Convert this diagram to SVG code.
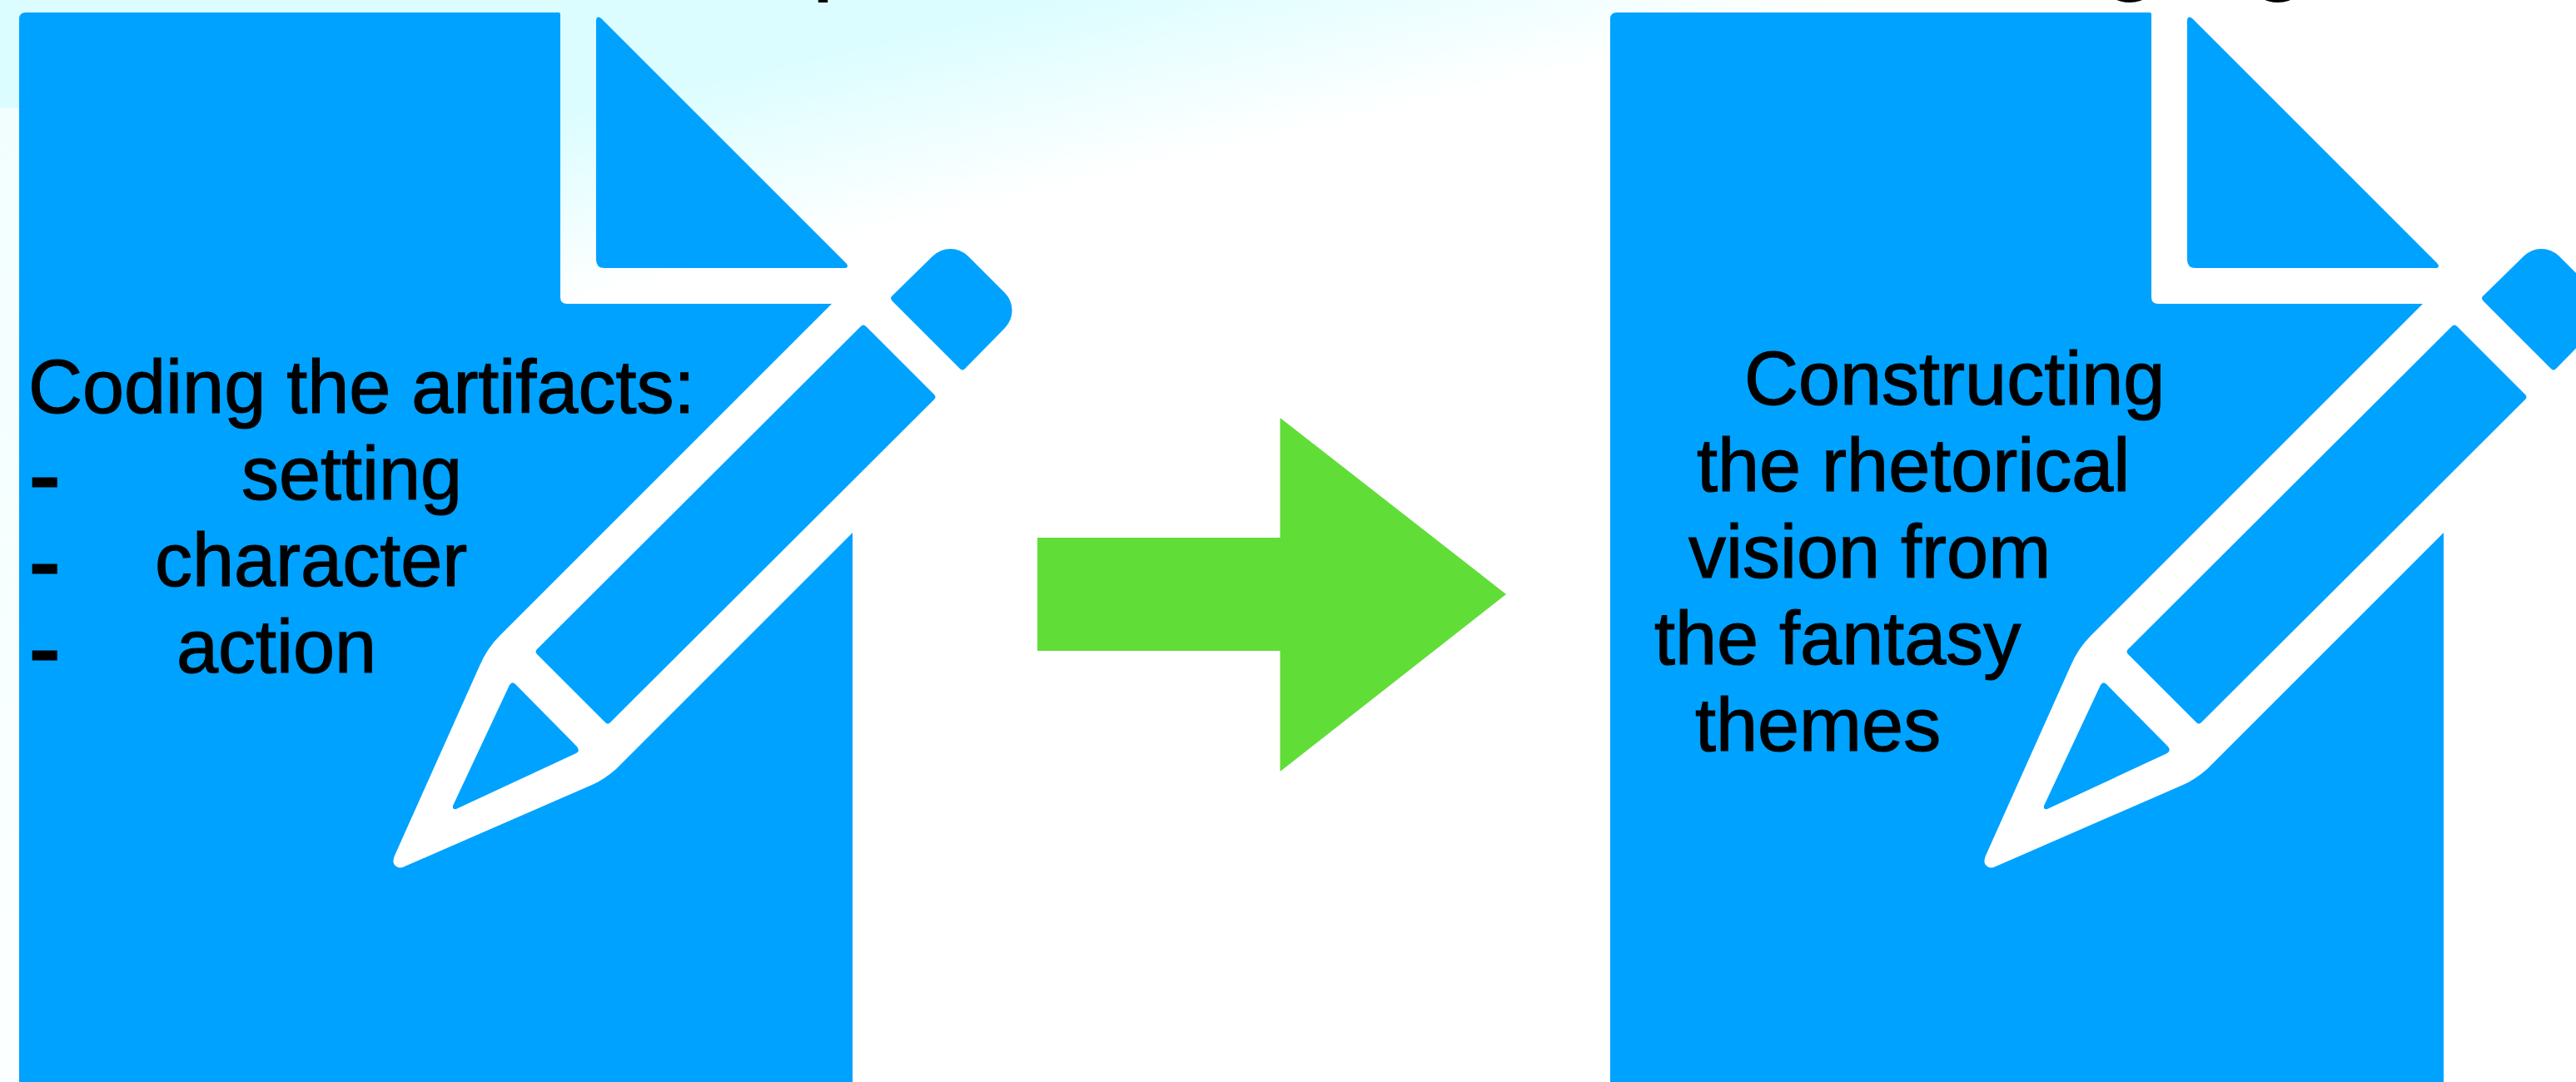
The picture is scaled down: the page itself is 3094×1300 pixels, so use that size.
<svg xmlns="http://www.w3.org/2000/svg" xmlns:xlink="http://www.w3.org/1999/xlink" width="3094" height="1300" viewBox="0 0 3094 1300">
<style>
.blue{fill:#00a2ff}
.t{font-family:"Liberation Sans",Arial,sans-serif;font-size:90px;fill:#000;stroke:#000;stroke-width:1.2px}
.b{font-weight:700}
.clip{font-family:"Liberation Sans",Arial,sans-serif;font-size:130px;fill:#000}
</style>
<defs>
<linearGradient id="sky" gradientUnits="userSpaceOnUse" x1="955" y1="75" x2="1005" y2="290">
<stop offset="0" stop-color="#dcfdff"/><stop offset="1" stop-color="#ffffff"/>
</linearGradient>
<linearGradient id="strip" x1="0" y1="0" x2="0" y2="1">
<stop offset="0" stop-color="#f2fefe"/><stop offset="1" stop-color="#fcffff"/>
</linearGradient>
<g id="doc">
<path class="blue" d="M31 15H671Q673 15 673 17V357Q673 365 681 365H999L600 764Q585 779 576 800L474 1028Q470 1037 476 1041Q480 1044 486 1041L711 943Q725 937 740 924L1024 640V1300H23V23Q23 15 31 15Z"/>
<path class="blue" d="M716 24Q717 18 722 22L1016 316Q1020 320 1016 322H726Q716 322 716 312Z"/>
<path class="blue" d="M1034 392Q1037 389 1040 392L1122 474Q1125 477 1122 480L733 868Q730 871 727 868L645 786Q642 783 645 780Z"/>
<path class="blue" d="M1072 355L1120.500 307.500A30 30 0 0 1 1162.500 307.500L1207 352A30 30 0 0 1 1207 394L1159 443Q1156 446 1153 443L1072 362Q1068 358 1072 355Z"/>
<path class="blue" d="M612 823Q615 818 619 822L693 897Q697 902 692 905L548 972Q543 973 544 968Z"/>
</g>
</defs>
<g id="background">
<rect width="3094" height="1300" fill="url(#sky)"/>
<rect x="0" y="130" width="24" height="1170" fill="url(#strip)"/>
</g>
<g id="title-fragment">
<text class="clip" x="974" y="-24">p</text>
<text class="clip" x="2523" y="-24">g</text>
<text class="clip" x="2701" y="-24">g</text>
</g>
<g id="node-coding">
<use xlink:href="#doc" href="#doc"/>
<text class="t" x="34" y="496">Coding the artifacts:</text>
<text class="t b" transform="translate(35 603) scale(1.25 1)">-</text>
<text class="t" x="290" y="600">setting</text>
<text class="t b" transform="translate(35 707) scale(1.25 1)">-</text>
<text class="t" x="186" y="704">character</text>
<text class="t b" transform="translate(35 811) scale(1.25 1)">-</text>
<text class="t" x="212" y="808">action</text>
</g>
<g id="node-constructing">
<use xlink:href="#doc" href="#doc" x="1911"/>
<text class="t" x="2095" y="486">Constructing</text>
<text class="t" x="2038" y="590">the rhetorical</text>
<text class="t" x="2028" y="694">vision from</text>
<text class="t" x="1987" y="798">the fantasy</text>
<text class="t" x="2036" y="902">themes</text>
</g>
<g id="connectors">
<path fill="#61dd38" d="M1246 646H1537.500V502L1809 714L1537.500 927V782H1246Z"/>
</g>
</svg>
